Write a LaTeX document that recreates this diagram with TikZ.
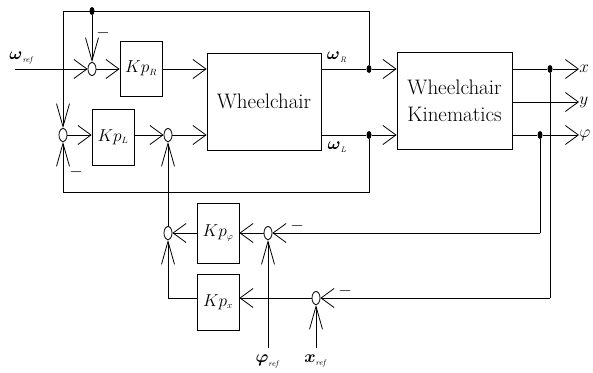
\documentclass[tikz,border=0pt]{standalone}
\usepackage{amsmath}
\usetikzlibrary{arrows.meta,shapes.geometric}
\begin{document}
\begin{tikzpicture}[x=1pt,y=-1pt, line width=0.8pt,
  blk/.style={draw, rectangle, inner sep=0pt},
  sumj/.style={draw, ellipse, minimum width=8pt, minimum height=13pt, inner sep=0pt},
  jdot/.style={fill, ellipse, minimum width=5pt, minimum height=8pt, inner sep=0pt},
  ha/.style={-{Straight Barb[length=13pt,width=19pt]}},
  va/.style={-{Straight Barb[length=23pt,width=13pt]}},
  lbl/.style={inner sep=0pt},
  big/.style={font=\fontsize{21}{27}\selectfont},
  kp/.style={font=\fontsize{19}{23}\selectfont},
  outl/.style={inner sep=0pt, anchor=west, font=\fontsize{18}{22}\selectfont},
  sig/.style={inner sep=0pt, font=\fontsize{19}{22}\selectfont},
  wl/.style={inner sep=0pt, font=\fontsize{16}{19}\selectfont},
]
\useasboundingbox (0,0) rectangle (593,372);
% blocks
\node[blk, kp, minimum width=42pt, minimum height=55pt] (KpR) at (141,68.5) {$Kp_{\scriptscriptstyle R}$};
\node[blk, kp, minimum width=42pt, minimum height=56pt] (KpL) at (113,137) {$Kp_{\scriptscriptstyle L}$};
\node[blk, big, minimum width=114pt, minimum height=97pt] (WC) at (264,101.5) {Wheelchair};
\node[blk, big, minimum width=115pt, minimum height=97pt, align=center] (KIN) at (454.5,100.5) {Wheelchair\\Kinematics};
\node[blk, kp, minimum width=42pt, minimum height=60pt] (Kpp) at (218,233) {$Kp_{\scriptscriptstyle\varphi}$};
\node[blk, kp, minimum width=42pt, minimum height=56pt] (Kpx) at (218,302) {$Kp_{\scriptscriptstyle x}$};
% summing junctions
\node[sumj] (sumR) at (92,69) {};
\node[sumj] (sumL) at (63,135) {};
\node[sumj] (sum2) at (168,135) {};
\node[sumj] (sum3) at (168,233) {};
\node[sumj] (sum4) at (268,233) {};
\node[sumj] (sum5) at (316,298) {};
% dots
\node[jdot] (dotTop) at (92,11) {};
\node[jdot] (dotR) at (369,69) {};
\node[jdot] (dotL) at (369,135) {};
\node[jdot] (dotX) at (550,69) {};
\node[jdot] (dotP) at (540,135) {};
% corner coordinates
\coordinate (win) at (15,69);
\coordinate (tr) at (369,11);
\coordinate (tl) at (63,11);
\coordinate (br) at (369,192);
\coordinate (bl) at (63,192);
\coordinate (cp) at (540,233);
\coordinate (cx) at (550,298);
\coordinate (ck) at (168,298);
\coordinate (pr) at (268,348);
\coordinate (xr) at (316,348);
% labels
\node[wl] (lwref) at (22,58) {$\boldsymbol{\omega}_{\scriptscriptstyle\mathit{ref}}$};
\node[wl] (lwR) at (337,57) {$\boldsymbol{\omega}_{\scriptscriptstyle\mathit{R}}$};
\node[wl] (lwL) at (337,147) {$\boldsymbol{\omega}_{\scriptscriptstyle\mathit{L}}$};
\node[wl] (lpr) at (268,361) {$\boldsymbol{\varphi}_{\scriptscriptstyle\mathit{ref}}$};
\node[wl] (lxr) at (316,361) {$\boldsymbol{x}_{\scriptscriptstyle\mathit{ref}}$};
\node[outl] (ox) at (579,69) {$x$};
\node[outl] (oy) at (579,102) {$y$};
\node[outl] (op) at (579,135) {$\varphi$};
\node[sig] (m1) at (103,33) {$-$};
\node[sig] (m2) at (76,172) {$-$};
\node[sig] (m3) at (297,226) {$-$};
\node[sig] (m4) at (345,291) {$-$};
% forward path
\draw[ha] (win) -- (sumR);
\draw[ha] (sumR) -- (sumR -| KpR.west);
\draw[ha] (KpR.east |- sumR) -- (sumR -| WC.west);
\draw[ha] (sumL) -- (sumL -| KpL.west);
\draw[ha] (KpL.east |- sumL) -- (sum2);
\draw[ha] (sum2) -- (sum2 -| WC.west);
\draw (WC.east |- dotR) -- (dotR);
\draw[ha] (dotR) -- (dotR -| KIN.west);
\draw (WC.east |- dotL) -- (dotL);
\draw[ha] (dotL) -- (dotL -| KIN.west);
% inner loops
\draw (dotR) -- (tr) -- (tl);
\draw[va] (tl) -- (sumL);
\draw[va] (dotTop) -- (sumR);
\draw (dotL) -- (br) -- (bl);
\draw[va] (bl) -- (sumL);
% outputs
\draw (KIN.east |- dotX) -- (dotX);
\draw[ha] (dotX) -- (ox.west);
\draw[ha] (KIN.east |- oy) -- (oy.west);
\draw (KIN.east |- dotP) -- (dotP);
\draw[ha] (dotP) -- (op.west);
% outer loops
\draw (dotP) -- (cp);
\draw[ha] (cp) -- (sum4);
\draw (dotX) -- (cx);
\draw[ha] (cx) -- (sum5);
\draw[ha] (sum4) -- (Kpp);
\draw[ha] (Kpp) -- (sum3);
\draw[va] (sum3) -- (sum2);
\draw[ha] (sum5) -- (sum5 -| Kpx.east);
\draw (Kpx.west |- sum5) -- (ck);
\draw[va] (ck) -- (sum3);
\draw[va] (pr) -- (sum4);
\draw[va] (xr) -- (sum5);
\end{tikzpicture}
\end{document}
